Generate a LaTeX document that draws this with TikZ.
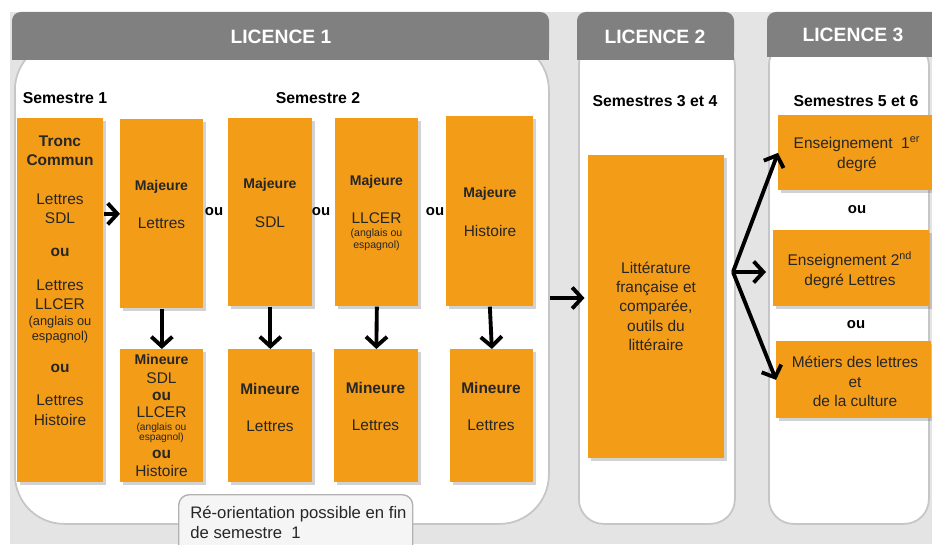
\documentclass[tikz,border=0pt]{standalone}
\usepackage{fontspec}
\setmainfont{Liberation Sans}
\usetikzlibrary{arrows.meta,shadows,positioning}
\definecolor{boxorange}{RGB}{243,156,24}
\definecolor{headgray}{RGB}{128,128,128}
\definecolor{backgray}{RGB}{228,228,228}
\tikzset{
  boxsize/.style 2 args={anchor=north west, inner sep=0pt,
    minimum width=#1*0.02cm, minimum height=#2*0.02cm}, % sizes in pixels
  obox/.style={fill=boxorange,
    drop shadow={shadow xshift=1.6pt, shadow yshift=-1.6pt, opacity=0.35}},
  panel/.style={fill=white, draw=gray!45, line width=1pt},
  txt/.style={anchor=north, align=center, inner sep=0pt, text=black!85,
    font=\fontsize{8.8}{10.8}\selectfont},
  sem/.style={anchor=base, inner sep=0pt, font=\bfseries\fontsize{9}{11}\selectfont},
  ou/.style={anchor=base, inner sep=0pt, font=\bfseries\fontsize{8.5}{10}\selectfont},
  lic/.style={anchor=base, inner sep=0pt, text=white, font=\bfseries\fontsize{11}{13}\selectfont},
  arr/.style={line width=2.2pt, -{Straight Barb[length=5.5pt,width=12pt]}},
}
\newcommand{\maj}[1]{{\fontsize{8}{10}\selectfont\textbf{#1}}}
\newcommand{\petit}[2][6]{{\fontsize{#1}{#1}\selectfont #2}}

\begin{document}
\begin{tikzpicture}[x=0.02cm,y=-0.02cm]
\useasboundingbox (0,0) rectangle (932,544);
\clip (0,0) rectangle (932,544);
\fill[backgray] (10,12) rectangle (932,544);

% licence 1
\node[panel, rounded corners=28pt, boxsize={534}{483}] (l1) at (14,40) {};
\fill[headgray, rounded corners=5pt] (12,12) rectangle (549,60);
\fill[headgray] (12,40) rectangle (549,60);
\node[lic] (h1) at (281,44) {LICENCE 1};
\node[sem] (s1) at (65,103) {Semestre 1};
\node[sem] (s2) at (318,103) {Semestre 2};

\node[obox, boxsize={86}{364}] (tronc) at (17,118) {};
\node[obox, boxsize={83}{189}] (majlet) at (120,119) {};
\node[obox, boxsize={84}{188}] (majsdl) at (228,118) {};
\node[obox, boxsize={83}{188}] (majllcer) at (335,118) {};
\node[obox, boxsize={87}{190}] (majhist) at (446,116) {};
\node[obox, boxsize={83}{133}] (minmix) at (120,349) {};
\node[obox, boxsize={84}{133}] (minsdl) at (228,349) {};
\node[obox, boxsize={84}{133}] (minllcer) at (334,349) {};
\node[obox, boxsize={83}{133}] (minhist) at (450,349) {};

\node[txt] (tronctxt) at (60,135.6) {\textbf{Tronc}\\\textbf{Commun}\\[11.3pt]Lettres\\SDL\\[7.9pt]\textbf{ou}\\[8.5pt]Lettres\\LLCER\\[-1.7pt]\petit[7.3]{(anglais ou}\\[-2.3pt]\petit[7.3]{espagnol)}\\[7.9pt]\textbf{ou}\\[7.9pt]Lettres\\[0.5pt]Histoire};
\node[txt] (majlettxt) at (161.5,179.8) {\maj{Majeure}\\[10.7pt]Lettres};
\node[txt] (majsdltxt) at (270,177.8) {\maj{Majeure}\\[11.3pt]SDL};
\node[txt] (majllcertxt) at (376.5,174.8) {\maj{Majeure}\\[10.7pt]LLCER\\[-2.9pt]\petit{(anglais ou}\\[-4pt]\petit{espagnol)}};
\node[txt] (majhisttxt) at (490,186.8) {\maj{Majeure}\\[11.3pt]Histoire};
\node[txt] (minmixtxt) at (161.5,353.8) {\maj{Mineure}\\SDL\\[-1.2pt]\textbf{ou}\\[-1.2pt]LLCER\\[-3.4pt]\petit[5.8]{(anglais ou}\\[-4.6pt]\petit[5.8]{espagnol)}\\[-0.6pt]\textbf{ou}\\[-0.6pt]Histoire};
\node[txt] (minsdltxt) at (270,382.6) {\textbf{Mineure}\\[10.2pt]Lettres};
\node[txt] (minllcertxt) at (375.5,381.6) {\textbf{Mineure}\\[10.7pt]Lettres};
\node[txt] (minhisttxt) at (491,381.6) {\textbf{Mineure}\\[10.7pt]Lettres};

\node[ou] (ou1) at (214,215) {ou};
\node[ou] (ou2) at (321,215) {ou};
\node[ou] (ou3) at (435,215) {ou};

\draw[arr] (tronc.east |- majlet.west) -- (majlet.west);
\draw[arr] (majlet.south) -- (minmix.north);
\draw[arr] (majsdl.south) -- (minsdl.north);
\draw[arr] (majllcer.south) -- (minllcer.north);
\draw[arr] (majhist.south) -- (minhist.north);

\node[draw=gray!60, fill=gray!8, rounded corners=6pt, line width=0.8pt, boxsize={234}{70}] (reorient) at (178,494) {};
\node[anchor=north west, inner sep=0pt, align=left, text=black!85,
  font=\fontsize{9.5}{11.3}\selectfont] (reorienttxt) at (190,506) {Ré-orientation possible en fin\\de semestre\ \ 1};

% licence 2
\node[panel, rounded corners=14pt, boxsize={156}{483}] (l2) at (578,40) {};
\fill[headgray, rounded corners=5pt] (577,12) rectangle (734,60);
\fill[headgray] (577,40) rectangle (734,60);
\node[lic] (h2) at (655,44) {LICENCE 2};
\node[sem] (s34) at (655,107) {Semestres 3 et 4};
\node[obox, boxsize={136}{303}] (litt) at (588,155) {};
\node[txt, font=\fontsize{8.8}{11}\selectfont] (litttxt) at (656,261.5) {Littérature\\française et\\comparée,\\outils du\\littéraire};

% licence 3
\node[panel, rounded corners=14pt, boxsize={160}{483}] (l3) at (768,40) {};
\fill[headgray, rounded corners=5pt] (767,12) rectangle (950,57);
\fill[headgray] (767,40) rectangle (950,57);
\node[lic] (h3) at (853,42) {LICENCE 3};
\node[sem] (s56) at (856,107) {Semestres 5 et 6};
\node[obox, boxsize={160}{75}] (ens1) at (778,115) {};
\node[obox, boxsize={156}{76}] (ens2) at (773,230) {};
\node[obox, boxsize={155}{77}] (metiers) at (776,341) {};
\node[txt] (ens1txt) at (857,136) {Enseignement\ \ 1\textsuperscript{er}\\[0.5pt]degré};
\node[txt] (ens2txt) at (850,251) {Enseignement 2\textsuperscript{nd}\\[0.5pt]degré Lettres};
\node[txt] (metierstxt) at (855,355.5) {Métiers des lettres\\[0.5pt]et\\de la culture};
\node[ou] (ou4) at (857,213) {ou};
\node[ou] (ou5) at (856,328) {ou};

\coordinate (l1out) at (550,298);
\draw[arr, shorten >=2pt] (l1out) -- (l1out -| litt.west);
\coordinate (split) at (733,272);
\draw[arr] (split) -- (ens1.west);
\draw[arr, shorten >=4pt] (split) -- (split -| ens2.west);
\draw[arr] (split) -- (metiers.west);
\end{tikzpicture}
\end{document}
